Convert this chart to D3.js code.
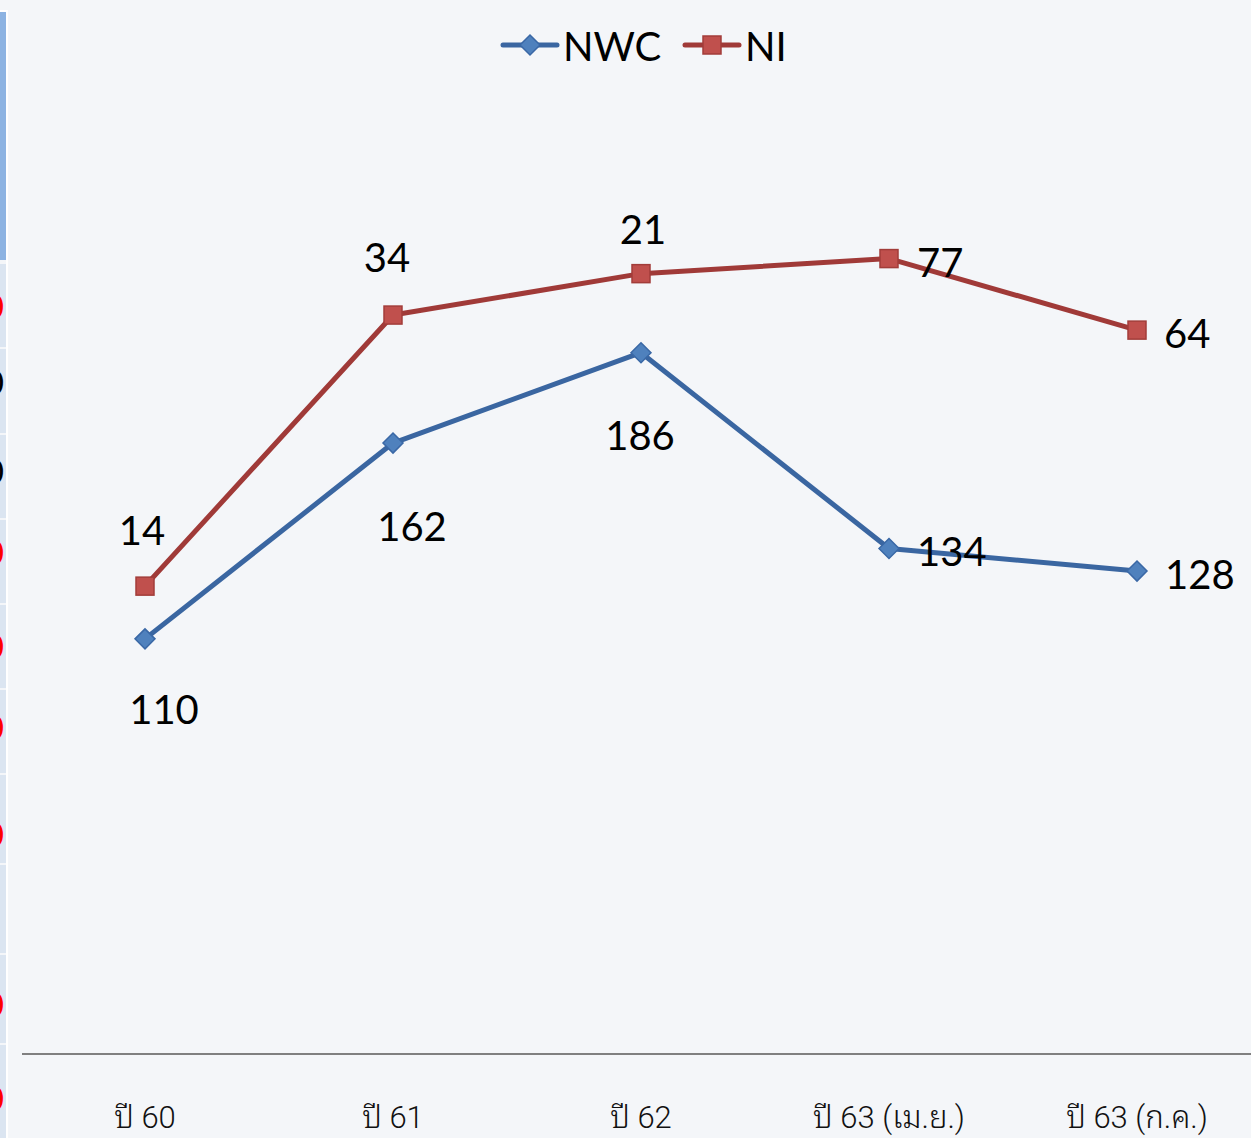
<!DOCTYPE html>
<html><head><meta charset="utf-8">
<script src="https://cdn.jsdelivr.net/npm/d3@7"></script>
<style>
html,body{margin:0;padding:0;background:#f4f6f9;}
svg{display:block;}
</style></head>
<body>
<svg id="c" width="1251" height="1138"></svg>
<script>
const categories = ["ปี 60", "ปี 61", "ปี 62", "ปี 63 (เม.ย.)", "ปี 63 (ก.ค.)"];
const nwcValues = [110, 162, 186, 134, 128];
const nwcLabels = ["110", "162", "186", "134", "128"];
const niValues = [124, 196, 207, 211, 192];
const niLabels = ["14", "34", "21", "77", "64"];
const seriesNames = ["NWC", "NI"];
// partial (cropped) left-axis labels visible at the left edge
const leftCells = [262, 347, 433, 518, 603, 688, 773, 863, 953, 1043];
const leftGlyphs = [
  {y: 305, c: "#ff0000"}, {y: 381, c: "#000"}, {y: 470, c: "#000"},
  {y: 551, c: "#ff0000"}, {y: 645, c: "#ff0000"}, {y: 726, c: "#ff0000"},
  {y: 833, c: "#ff0000"}, {y: 1003, c: "#ff0000"}, {y: 1097, c: "#ff0000"}
];

// label placement (presentation only): [dx, dy, anchor]
const nwcLabelPos = [[19, 70, "middle"], [19, 83, "middle"], [-1, 82, "middle"], [28, 3, "start"], [28, 3, "start"]];
const niLabelPos = [[-3, -56, "middle"], [-6, -58, "middle"], [2, -45, "middle"], [28, 3, "start"], [27, 3, "start"]];

const svg = d3.select("#c");
const W = 1251, H = 1138;
svg.append("rect").attr("width", W).attr("height", H).attr("fill", "#f4f6f9");

// left cropped table strip
const strip = svg.append("g");
strip.append("rect").attr("x", 0).attr("y", 12).attr("width", 6).attr("height", 248).attr("fill", "#8db3e2");
const cellBounds = [260].concat(leftCells);
for (let i = 0; i < cellBounds.length - 1; i++) {
  strip.append("rect").attr("x", 0).attr("y", cellBounds[i] + 2)
    .attr("width", 6).attr("height", cellBounds[i + 1] - cellBounds[i] - 2).attr("fill", "#dbe5f1");
}
strip.append("rect").attr("x", 0).attr("y", 1045).attr("width", 6).attr("height", 93).attr("fill", "#dbe5f1");
strip.append("rect").attr("x", 6).attr("y", 10).attr("width", 2).attr("height", H).attr("fill", "#ffffff");
strip.append("rect").attr("x", 0).attr("y", 10).attr("width", 8).attr("height", 2).attr("fill", "#ffffff");
svg.append("clipPath").attr("id", "lc").append("rect").attr("x", 0).attr("y", 0).attr("width", 4).attr("height", H);
strip.append("g").attr("clip-path", "url(#lc)").selectAll("text").data(leftGlyphs).join("text")
  .attr("x", 4).attr("y", d => d.y).attr("text-anchor", "end").attr("dominant-baseline", "central")
  .attr("font-family", "Lato, sans-serif").attr("font-size", 34).attr("fill", d => d.c).text("0");

// scales
const x = d3.scaleBand().domain(categories).range([21, 1261]).padding(0);
const cx = d => x(d) + x.bandwidth() / 2;
const y = d3.scaleLinear().domain([0, 280]).range([1053, 1053 - 280 * 3.765]);

// x axis
const xAxis = d3.axisBottom(x).tickSize(0).tickPadding(0);
const gx = svg.append("g").attr("transform", "translate(0,1054)").call(xAxis);
gx.select(".domain").attr("d", "M22,0H1251").attr("stroke", "#808080").attr("stroke-width", 2);
gx.selectAll("text").attr("dy", null).attr("y", 74)
  .attr("font-family", "Roboto, 'Noto Sans Thai Looped', 'Noto Sans Thai', 'Noto Sans', sans-serif")
  .attr("font-weight", 300)
  .attr("font-size", 31).attr("fill", "#111");

const series = [
  {name: "NWC", values: nwcValues, labels: nwcLabels, pos: nwcLabelPos, line: "#3a66a1", fill: "#4f81bd", stroke: "#3a68a6", marker: "diamond"},
  {name: "NI", values: niValues, labels: niLabels, pos: niLabelPos, line: "#a03a38", fill: "#c0504d", stroke: "#a23d3a", marker: "square"}
];

const line = d3.line().x((d, i) => cx(categories[i])).y(d => y(d));

function drawMarker(g, type, fill, stroke) {
  if (type === "square") {
    g.append("rect").attr("x", -9).attr("y", -9).attr("width", 18).attr("height", 18)
      .attr("fill", fill).attr("stroke", stroke).attr("stroke-width", 1.5);
  } else {
    g.append("path").attr("d", "M0,-10L10,0L0,10L-10,0Z")
      .attr("fill", fill).attr("stroke", stroke).attr("stroke-width", 1.5);
  }
}

series.forEach(s => {
  svg.append("path").datum(s.values).attr("d", line).attr("fill", "none")
    .attr("stroke", s.line).attr("stroke-width", 5).attr("stroke-linejoin", "round");
});
series.forEach(s => {
  s.values.forEach((v, i) => {
    const g = svg.append("g").attr("transform", `translate(${cx(categories[i])},${y(v)})`);
    drawMarker(g, s.marker, s.fill, s.stroke);
  });
});
// data labels
series.forEach(s => {
  s.values.forEach((v, i) => {
    const px = cx(categories[i]), py = y(v);
    const p = s.pos[i];
    svg.append("text").attr("font-family", "Lato, 'Open Sans', sans-serif")
      .attr("font-size", 40).attr("fill", "#000").attr("dominant-baseline", "central")
      .attr("x", px + p[0]).attr("y", py + p[1]).attr("text-anchor", p[2])
      .text(s.labels[i]);
  });
});

// legend
const leg = svg.append("g");
const legItems = [
  {s: series[0], x0: 503, tx: 563},
  {s: series[1], x0: 685, tx: 745}
];
legItems.forEach(it => {
  leg.append("line").attr("x1", it.x0).attr("x2", it.x0 + 54).attr("y1", 45).attr("y2", 45)
    .attr("stroke", it.s.line).attr("stroke-width", 5).attr("stroke-linecap", "round");
  const g = leg.append("g").attr("transform", `translate(${it.x0 + 27},45)`);
  drawMarker(g, it.s.marker, it.s.fill, it.s.stroke);
  leg.append("text").attr("x", it.tx).attr("y", 46).attr("dominant-baseline", "central")
    .attr("font-family", "Lato, 'Open Sans', sans-serif").attr("font-size", 40).attr("fill", "#000").text(it.s.name);
});
</script>
</body></html>
